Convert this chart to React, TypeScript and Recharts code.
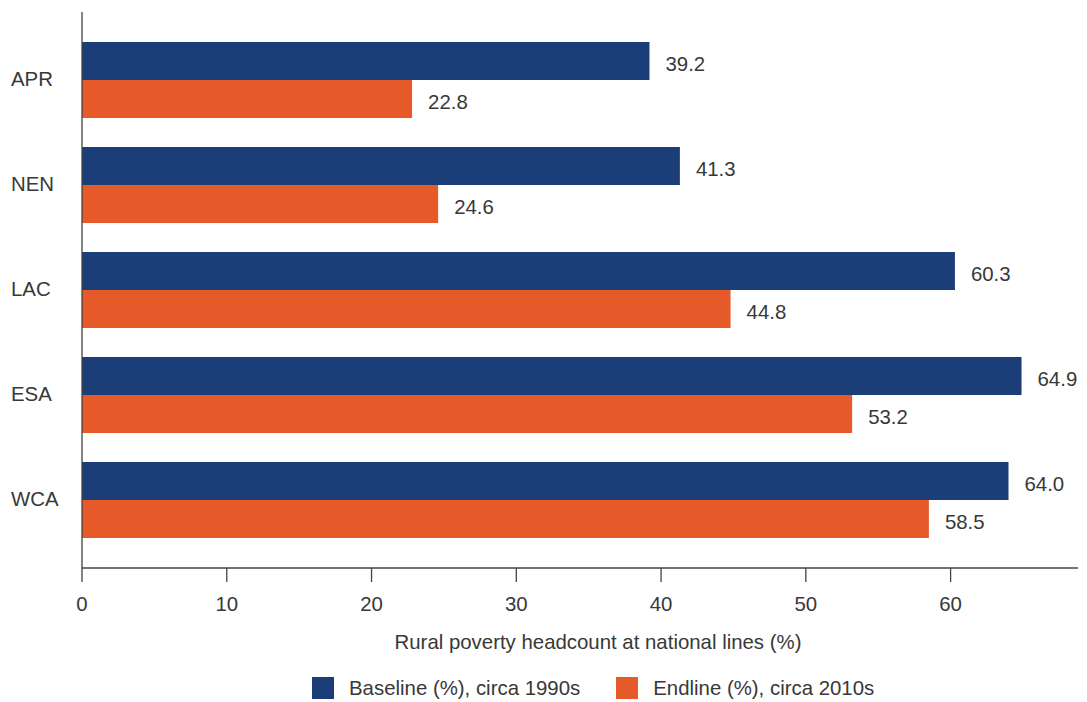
import React from 'react';
import { BarChart, Bar, XAxis, YAxis, Legend, LabelList } from 'recharts';

const categories = ['APR', 'NEN', 'LAC', 'ESA', 'WCA'];
const baselineValues = [39.2, 41.3, 60.3, 64.9, 64.0];
const endlineValues = [22.8, 24.6, 44.8, 53.2, 58.5];
const xTicks = [0, 10, 20, 30, 40, 50, 60];
const seriesNames = ['Baseline (%), circa 1990s', 'Endline (%), circa 2010s'];
const seriesColors = ['#1c3e78', '#e55a28'];
const axisTitle = 'Rural poverty headcount at national lines (%)';

const data = categories.map((c, i) => ({
  region: c,
  baseline: baselineValues[i],
  endline: endlineValues[i],
}));

const FONT = "'Liberation Sans', Arial, Helvetica, sans-serif";
const FS = 20.4;
const TEXT = '#383838';
const AXIS = '#444444';

const YTick = (props: any) => {
  const { y, payload } = props;
  return (
    <text x={11} y={y + 6.5} textAnchor="start" fontSize={FS} fill={TEXT} fontFamily={FONT}>
      {payload.value}
    </text>
  );
};

const XTick = (props: any) => {
  const { x, y, payload } = props;
  return (
    <text x={x} y={y + 29} textAnchor="middle" fontSize={FS} fill={TEXT} fontFamily={FONT}>
      {payload.value}
    </text>
  );
};

const ValueLabel = (props: any) => {
  const { x, y, width, height, value } = props;
  return (
    <text
      x={x + width + 16}
      y={y + height / 2 + 10}
      textAnchor="start"
      fontSize={FS}
      fill={TEXT}
      fontFamily={FONT}
    >
      {Number(value).toFixed(1)}
    </text>
  );
};

const AxisTitle = (props: any) => {
  const vb = props.viewBox || { x: 82, width: 996, y: 568 };
  return (
    <text
      x={vb.x + vb.width / 2 + 18}
      y={649}
      textAnchor="middle"
      fontSize={FS}
      fill={TEXT}
      fontFamily={FONT}
    >
      {axisTitle}
    </text>
  );
};

const LegendContent = () => (
  <div
    style={{
      display: 'flex',
      alignItems: 'center',
      paddingLeft: 312,
      height: 22,
      fontFamily: FONT,
      fontSize: FS,
      color: TEXT,
      whiteSpace: 'nowrap',
    }}
  >
    {seriesNames.map((name, i) => (
      <div key={name} style={{ display: 'flex', alignItems: 'center', marginRight: 36 }}>
        <div style={{ width: 22, height: 22, background: seriesColors[i], marginRight: 15 }} />
        <span style={{ lineHeight: '22px' }}>{name}</span>
      </div>
    ))}
  </div>
);

export default function App() {
  return (
    <div style={{ position: 'absolute', left: 0, top: 0, width: 1087, height: 702, background: '#fff' }}>
      <BarChart
        width={1087}
        height={702}
        data={data}
        layout="vertical"
        margin={{ top: 12, right: 9, left: 0, bottom: 54 }}
        barGap={0}
      >
        <XAxis
          type="number"
          domain={[0, 68.8]}
          ticks={xTicks}
          allowDataOverflow
          height={80}
          tickSize={14}
          tickMargin={0}
          axisLine={{ stroke: AXIS, strokeWidth: 1.3 }}
          tickLine={{ stroke: AXIS, strokeWidth: 1.3 }}
          tick={<XTick />}
          label={<AxisTitle />}
        />
        <YAxis
          type="category"
          dataKey="region"
          width={82}
          padding={{ top: 15, bottom: 16 }}
          axisLine={{ stroke: AXIS, strokeWidth: 1.3 }}
          tickLine={false}
          tick={<YTick />}
        />
        <Legend
          verticalAlign="middle"
          layout="horizontal"
          align="center"
          wrapperStyle={{ top: 677, left: 0, width: 1087 }}
          content={<LegendContent />}
        />
        <Bar dataKey="baseline" name={seriesNames[0]} fill={seriesColors[0]} barSize={38} isAnimationActive={false}>
          <LabelList dataKey="baseline" content={<ValueLabel />} />
        </Bar>
        <Bar dataKey="endline" name={seriesNames[1]} fill={seriesColors[1]} barSize={38} isAnimationActive={false}>
          <LabelList dataKey="endline" content={<ValueLabel />} />
        </Bar>
      </BarChart>
    </div>
  );
}
